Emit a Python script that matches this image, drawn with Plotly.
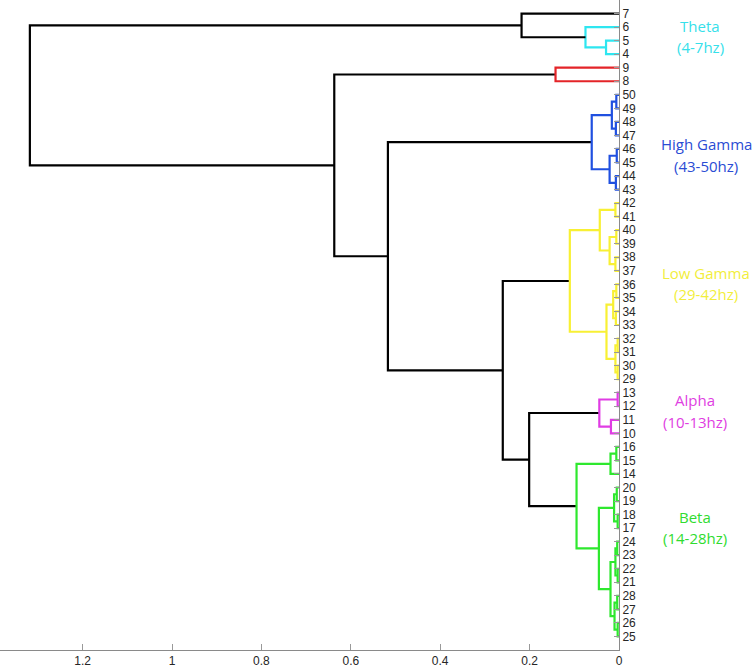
import plotly.graph_objects as go

# Leaf labels, top to bottom
leaf_order = [7, 6, 5, 4, 9, 8, 50, 49, 48, 47, 46, 45, 44, 43,
              42, 41, 40, 39, 38, 37, 36, 35, 34, 33, 32, 31, 30, 29,
              13, 12, 11, 10, 16, 15, 14, 20, 19, 18, 17, 24, 23, 22, 21,
              28, 27, 26, 25]

# Linkage: each merge joins two children (leaf label int or "N<i>" node) at a height
merge_left = [5, 6, 7, 9,
              50, 48, "N4", 46, 44, "N7", "N6",
              42, 40, 38, "N12", "N11", 36, 34, "N16", 32, 30, "N19", "N18", "N15",
              13, 11, "N24",
              16, "N27", 20, 18, "N29", 24, 22, "N32", 28, 26, "N35", "N34", "N31", "N28",
              "N26", "N23", "N10", "N3", "N2"]
merge_right = [4, "N0", "N1", 8,
               49, 47, "N5", 45, 43, "N8", "N9",
               41, 39, 37, "N13", "N14", 35, 33, "N17", 31, 29, "N20", "N21", "N22",
               12, 10, "N25",
               15, 14, 19, 17, "N30", 23, 21, "N33", 27, 25, "N36", "N37", "N38", "N39",
               "N40", "N41", "N42", "N43", "N44"]
merge_height = [0.029, 0.075, 0.218, 0.142,
                0.006, 0.007, 0.016, 0.005, 0.007, 0.021, 0.061,
                0.008, 0.006, 0.008, 0.021, 0.043, 0.006, 0.007, 0.013, 0.003, 0.003, 0.008, 0.028, 0.110,
                0.003, 0.018, 0.044,
                0.006, 0.019, 0.005, 0.003, 0.011, 0.004, 0.003, 0.008, 0.004, 0.003, 0.010, 0.019, 0.045, 0.095,
                0.201, 0.260, 0.517, 0.637, 1.318]
merge_group = (["Theta", "Theta", "none", "Red"]
               + ["High Gamma"] * 7
               + ["Low Gamma"] * 13
               + ["Alpha"] * 3
               + ["Beta"] * 14
               + ["none"] * 5)

group_colors = {"Theta": "#2ee6f0", "Red": "#e42428", "High Gamma": "#2050e0",
                "Low Gamma": "#f8f034", "Alpha": "#e03ce4", "Beta": "#2ee82e",
                "none": "#000000"}

band_titles = ["Theta", "High Gamma", "Low Gamma", "Alpha", "Beta"]
band_ranges = ["(4-7hz)", "(43-50hz)", "(29-42hz)", "(10-13hz)", "(14-28hz)"]
band_text_colors = ["#36e0ea", "#2a4cd4", "#f2ee3c", "#e03ee2", "#30dc30"]

x_ticks = [0, 0.2, 0.4, 0.6, 0.8, 1.0, 1.2]
x_ticktext = ["0", "0.2", "0.4", "0.6", "0.8", "1", "1.2"]

n = len(leaf_order)
pos_y = {}
pos_h = {}
for i, lab in enumerate(leaf_order):
    pos_y[lab] = n - i
    pos_h[lab] = 0.0

segs = {}
for k, (a, b, h, g) in enumerate(zip(merge_left, merge_right, merge_height, merge_group)):
    ya, yb = pos_y[a], pos_y[b]
    xs = [pos_h[a], h, h, pos_h[b], None]
    ys = [ya, ya, yb, yb, None]
    segs.setdefault(g, ([], []))
    segs[g][0].extend(xs)
    segs[g][1].extend(ys)
    nid = "N%d" % k
    pos_y[nid] = (ya + yb) / 2
    pos_h[nid] = h

fig = go.Figure()
for g, (xs, ys) in segs.items():
    fig.add_trace(go.Scatter(x=xs, y=ys, mode="lines",
                             line=dict(color=group_colors[g], width=2.2),
                             hoverinfo="skip", showlegend=False))

W, H = 755, 667
ml, mr, mt, mb = 0, 136.4, 0, 17
pw, ph = W - ml - mr, H - mt - mb

# label line positions (pixel centres in the page): x, y of title, y of range
band_px = [(700, 26, 47), (706, 144, 166), (705.5, 273, 294), (695, 400, 421.5), (695, 516.5, 537.5)]
for title, rng, col, (px, py1, py2) in zip(band_titles, band_ranges, band_text_colors, band_px):
    for txt, py in ((title, py1), (rng, py2)):
        fig.add_annotation(x=(px - ml) / pw, y=1 - (py - mt) / ph, xref="paper", yref="paper",
                           text=txt, showarrow=False, xanchor="center", yanchor="middle",
                           font=dict(family="Open Sans", size=15, color=col))

fig.update_layout(
    width=W, height=H, autosize=False,
    margin=dict(l=ml, r=mr, t=mt, b=mb, pad=0),
    plot_bgcolor="white", paper_bgcolor="white",
    font=dict(family="Liberation Sans", size=12, color="#262626"),
    xaxis=dict(range=[(pw) / 446.7, 0], tickvals=x_ticks, ticktext=x_ticktext,
               ticks="inside", ticklen=6, tickcolor="#999999", showgrid=False,
               zeroline=False, showline=True, linecolor="#8a8a8a", linewidth=1,
               automargin=False, tickfont=dict(size=12, color="#262626")),
    yaxis=dict(range=[0, n + 1], side="right", tickvals=list(range(n, 0, -1)),
               ticktext=[str(v) for v in leaf_order], ticks="inside", ticklen=5,
               tickcolor="#999999", showgrid=False, zeroline=False, showline=True,
               linecolor="#8a8a8a", linewidth=1, automargin=False,
               tickfont=dict(size=12, color="#262626")),
)

fig.write_html("out.html")
